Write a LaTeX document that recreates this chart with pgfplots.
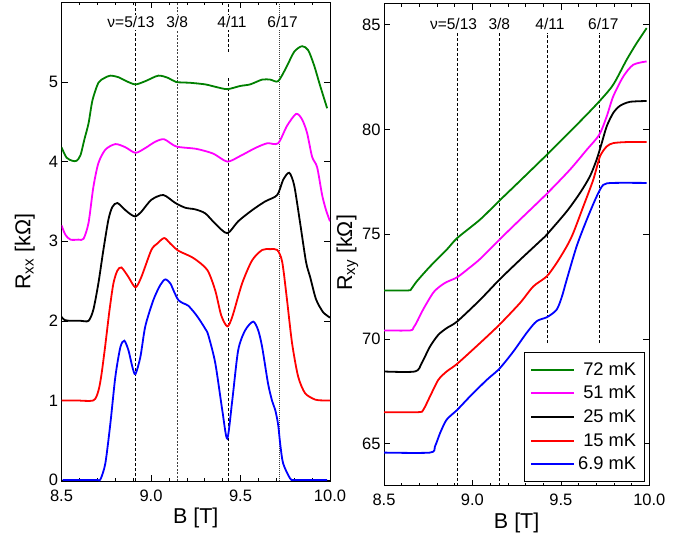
\documentclass[border=0pt]{standalone}
\usepackage{fontspec}
\setmainfont{Liberation Sans}
\usepackage{pgfplots}
\pgfplotsset{compat=1.18}
\definecolor{cgreen}{RGB}{0,128,0}
\definecolor{cmag}{RGB}{255,0,255}
\definecolor{cred}{RGB}{255,0,0}
\definecolor{cblue}{RGB}{0,0,255}
\tikzset{nulabel/.style={font=\fontsize{15.5}{15.5}\selectfont, fill=white, inner sep=2pt}}
\begin{document}
\begin{tikzpicture}
\useasboundingbox (0pt,0pt) rectangle (690pt,535pt);
\pgfplotsset{
 every axis/.append style={
  scale only axis,
  /pgf/number format/assume math mode=true,
  tick align=inside,
  major tick length=6pt, minor tick length=3pt,
  every tick/.style={black, line width=0.6pt},
  axis line style={line width=0.9pt},
  tick label style={font=\fontsize{16.5}{16.5}\selectfont},
  xticklabel style={yshift=-5pt},
  label style={font=\fontsize{21.5}{21.5}\selectfont},
  xmin=8.5, xmax=10, xtick={8.5,9,9.5,10}, xticklabels={8.5,9.0,9.5,10.0},
  minor x tick num=4,
  xlabel={B [T]},
 },
 curve/.style={line width=1.8pt, smooth, tension=0.45},
 vline/.style={black, line width=0.7pt, dash pattern=on 3pt off 2pt, forget plot},
 vlinedot/.style={black!75, line width=0.7pt, dash pattern=on 1pt off 1pt, forget plot},
}
% ---------------- left panel: Rxx ----------------
\begin{axis}[at={(61.5pt,53.8pt)}, anchor=south west, width=268.5pt, height=478.8pt,
  ymin=-0.015, ymax=6, ytick={0,1,2,3,4,5},
  ylabel={R\textsubscript{xx} [kΩ]}, ylabel shift=7pt,
  ylabel style={at={(ticklabel cs:0.479)}}]
\addplot[vline] coordinates {(8.915,-0.015) (8.915,6)};
\addplot[vline, black!75, dash pattern=on 2pt off 1.5pt] coordinates {(9.146,-0.015) (9.146,6)};
\addplot[vline] coordinates {(9.430,-0.015) (9.430,5.07)};
\addplot[vline] coordinates {(9.430,5.38) (9.430,6)};
\addplot[vlinedot] coordinates {(9.715,-0.015) (9.715,6)};
% 72 mK
\addplot[curve, cgreen] coordinates {(8.500,4.18)(8.528,4.05)(8.561,4.01)(8.584,4.01)(8.606,4.08)(8.628,4.28)(8.651,4.48)(8.673,4.77)(8.706,4.99)(8.740,5.05)(8.773,5.08)(8.818,5.06)(8.863,5.01)(8.913,4.97)(8.968,5.01)(9.041,5.08)(9.097,5.05)(9.141,5.00)(9.219,4.99)(9.303,4.97)(9.359,4.94)(9.426,4.91)(9.498,4.95)(9.554,4.97)(9.621,5.03)(9.666,5.03)(9.710,5.01)(9.755,5.18)(9.800,5.38)(9.844,5.45)(9.878,5.40)(9.911,5.21)(9.944,4.96)(9.984,4.67)};
% 51 mK
\addplot[curve, cmag] coordinates {(8.500,3.20)(8.522,3.08)(8.550,3.02)(8.595,3.02)(8.623,3.03)(8.651,3.23)(8.678,3.68)(8.706,3.98)(8.745,4.15)(8.801,4.22)(8.857,4.18)(8.913,4.11)(8.968,4.17)(9.024,4.25)(9.074,4.28)(9.141,4.19)(9.253,4.16)(9.348,4.10)(9.426,4.00)(9.498,4.07)(9.582,4.17)(9.649,4.23)(9.710,4.23)(9.760,4.45)(9.811,4.60)(9.844,4.53)(9.872,4.36)(9.900,4.06)(9.928,3.93)(9.956,3.58)(9.978,3.39)(10.000,3.25)};
% 25 mK
\addplot[curve, black] coordinates {(8.500,2.05)(8.517,2.01)(8.550,2.00)(8.606,2.00)(8.651,2.00)(8.678,2.14)(8.706,2.47)(8.734,2.89)(8.762,3.27)(8.784,3.43)(8.812,3.48)(8.857,3.39)(8.885,3.34)(8.913,3.31)(8.946,3.37)(9.002,3.52)(9.069,3.58)(9.136,3.48)(9.192,3.42)(9.247,3.40)(9.303,3.35)(9.359,3.22)(9.426,3.10)(9.487,3.25)(9.565,3.39)(9.638,3.50)(9.705,3.58)(9.738,3.77)(9.772,3.86)(9.800,3.70)(9.833,3.23)(9.866,2.74)(9.889,2.55)(9.922,2.27)(9.961,2.11)(10.000,2.04)};
% 15 mK
\addplot[curve, cred] coordinates {(8.500,1.00)(8.578,1.00)(8.678,1.00)(8.706,1.12)(8.723,1.32)(8.745,1.70)(8.768,2.13)(8.790,2.47)(8.812,2.63)(8.835,2.67)(8.874,2.55)(8.913,2.42)(8.946,2.55)(9.002,2.89)(9.035,2.97)(9.074,3.04)(9.108,2.97)(9.153,2.88)(9.236,2.79)(9.314,2.64)(9.359,2.38)(9.392,2.07)(9.426,1.93)(9.454,2.05)(9.509,2.47)(9.565,2.76)(9.621,2.89)(9.666,2.90)(9.705,2.89)(9.733,2.74)(9.760,2.26)(9.788,1.72)(9.822,1.30)(9.861,1.09)(9.917,1.01)(9.956,1.00)(10.000,1.00)};
% 6.9 mK
\addplot[curve, cblue] coordinates {(8.506,0.00)(8.600,0.00)(8.700,0.00)(8.718,0.01)(8.745,0.21)(8.773,0.71)(8.801,1.30)(8.829,1.67)(8.851,1.75)(8.874,1.63)(8.896,1.42)(8.913,1.33)(8.941,1.55)(8.968,1.93)(9.013,2.26)(9.052,2.45)(9.080,2.52)(9.108,2.47)(9.130,2.36)(9.153,2.26)(9.180,2.22)(9.208,2.19)(9.247,2.09)(9.275,2.00)(9.303,1.90)(9.320,1.82)(9.359,1.47)(9.398,0.88)(9.426,0.52)(9.454,1.00)(9.487,1.63)(9.526,1.88)(9.571,1.99)(9.599,1.88)(9.621,1.67)(9.654,1.21)(9.677,0.99)(9.694,0.88)(9.710,0.70)(9.722,0.45)(9.738,0.21)(9.777,0.02)(9.805,0.00)(9.984,0.00)};
\node[nulabel] at (axis cs:8.888,5.75) {ν=5/13};
\node[nulabel] at (axis cs:9.146,5.75) {3/8};
\node[nulabel] at (axis cs:9.452,5.75) {4/11};
\node[nulabel] at (axis cs:9.735,5.75) {6/17};
\end{axis}
% ---------------- right panel: Rxy ----------------
\begin{axis}[at={(384pt,49.3pt)}, anchor=south west, width=265.3pt, height=481.9pt,
  ymin=63, ymax=86, ytick={65,70,75,80,85},
  ylabel={R\textsubscript{xy} [kΩ]}, ylabel shift=-3pt,
  ylabel style={at={(ticklabel cs:0.483)}},
  legend style={at={(rel axis cs:0.984,0.008)}, anchor=south east, draw=black,
    line width=0.8pt, fill=white, font=\fontsize{18.3}{18.3}\selectfont,
    inner xsep=5.5pt, inner ysep=6pt, row sep=1.5pt,
    nodes={inner xsep=3pt, inner ysep=4pt}, cells={anchor=east}},
  legend image code/.code={\draw[#1, line width=2pt] (0pt,0pt) -- (43pt,0pt);}]
\addplot[vline] coordinates {(8.912,63) (8.912,84.6)};
\addplot[vline] coordinates {(9.152,63) (9.152,84.6)};
\addplot[vline] coordinates {(9.424,69.8) (9.424,84.6)};
\addplot[vline] coordinates {(9.720,69.8) (9.720,84.6)};
\addplot[curve, cgreen] coordinates {(8.500,72.32)(8.637,72.32)(8.655,72.40)(8.685,72.75)(8.760,73.46)(8.854,74.26)(8.914,74.82)(9.043,75.70)(9.152,76.60)(9.269,77.55)(9.420,78.79)(9.608,80.38)(9.717,81.34)(9.796,82.14)(9.872,83.33)(9.929,84.13)(9.985,84.84)};
\addlegendentry{72 mK}
\addplot[curve, cmag] coordinates {(8.500,70.41)(8.647,70.41)(8.667,70.55)(8.685,70.80)(8.722,71.42)(8.779,72.22)(8.822,72.55)(8.854,72.72)(8.914,72.95)(8.980,73.38)(9.043,73.82)(9.152,74.74)(9.269,75.70)(9.420,76.93)(9.551,78.08)(9.646,79.03)(9.717,79.75)(9.759,80.62)(9.796,81.58)(9.853,82.53)(9.909,83.09)(9.985,83.25)};
\addlegendentry{51 mK}
\addplot[curve, black] coordinates {(8.500,68.45)(8.675,68.45)(8.713,68.85)(8.760,69.64)(8.807,70.20)(8.854,70.52)(8.914,70.84)(9.043,71.87)(9.152,72.83)(9.269,73.78)(9.391,74.74)(9.420,74.98)(9.533,76.09)(9.608,76.97)(9.664,77.76)(9.702,78.56)(9.731,79.35)(9.759,80.15)(9.796,80.79)(9.834,81.13)(9.890,81.32)(9.985,81.36)};
\addlegendentry{25 mK}
\addplot[curve, cred] coordinates {(8.500,66.51)(8.694,66.51)(8.722,66.62)(8.760,67.26)(8.807,68.05)(8.854,68.45)(8.914,68.82)(9.043,69.81)(9.152,70.68)(9.269,71.72)(9.344,72.51)(9.420,72.99)(9.476,73.63)(9.533,74.42)(9.570,75.06)(9.627,76.33)(9.683,77.60)(9.721,78.71)(9.759,79.19)(9.796,79.35)(9.872,79.40)(9.985,79.40)};
\addlegendentry{15 mK}
\addplot[curve, cblue] coordinates {(8.500,64.58)(8.760,64.58)(8.788,64.87)(8.817,65.51)(8.854,66.15)(8.914,66.62)(8.986,67.26)(9.081,68.05)(9.152,68.58)(9.231,69.40)(9.307,70.30)(9.363,70.85)(9.423,71.05)(9.476,71.40)(9.505,72.00)(9.533,72.83)(9.589,74.42)(9.646,75.69)(9.702,76.80)(9.740,77.36)(9.796,77.45)(9.985,77.45)};
\addlegendentry{6.9 mK}
\node[nulabel] at (axis cs:8.893,85.05) {ν=5/13};
\node[nulabel] at (axis cs:9.152,85.05) {3/8};
\node[nulabel] at (axis cs:9.438,85.05) {4/11};
\node[nulabel] at (axis cs:9.740,85.05) {6/17};
\end{axis}
\end{tikzpicture}
\end{document}
